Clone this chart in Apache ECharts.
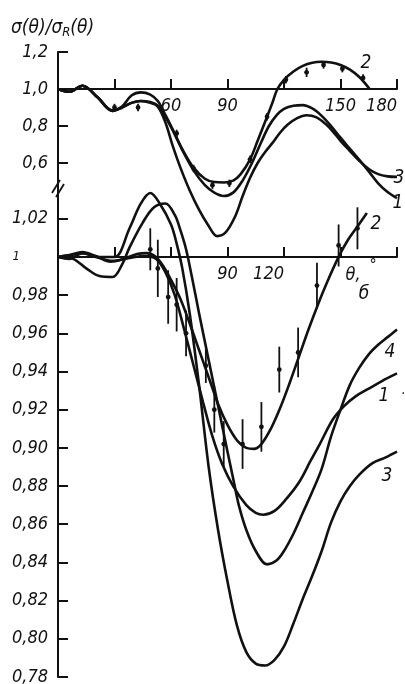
<!DOCTYPE html>
<html>
<head>
<meta charset="utf-8">
<title>σ(θ)/σR(θ)</title>
<script src="https://cdn.jsdelivr.net/npm/echarts@6.0.0/dist/echarts.min.js"></script>
<style>
  html, body { margin: 0; padding: 0; background: #fff; }
  #main { width: 405px; height: 684px; }
</style>
</head>
<body>
<div id="main"></div>
<script type="text/javascript">
// верхняя панель (a): отношение сечений, угол в градусах
var topCurve1 = [[0,1.0],[6,0.985],[13,1.018],[21,0.955],[29,0.882],[34,0.9],[39,0.925],[44,0.935],[49,0.93],[53,0.91],[57,0.85],[61,0.775],[66,0.67],[72,0.56],[78,0.48],[83,0.44],[88,0.422],[93,0.44],[98,0.505],[103,0.6],[108,0.715],[112,0.8],[116,0.858],[120,0.893],[125,0.91],[130,0.913],[135,0.895],[140,0.855],[145,0.8],[150,0.737],[155,0.677],[160,0.617],[165,0.555],[170,0.49],[175,0.443],[180,0.41]];
var topCurve2 = [[0,1.0],[6,0.985],[13,1.018],[21,0.955],[29,0.885],[34,0.905],[39,0.965],[44,0.982],[49,0.97],[53,0.935],[57,0.86],[61,0.78],[66,0.675],[72,0.575],[78,0.515],[83,0.497],[88,0.495],[93,0.505],[97,0.54],[102,0.62],[106,0.72],[111,0.85],[114,0.93],[116.5,1.0],[120,1.05],[125,1.095],[130,1.125],[135,1.142],[140,1.147],[145,1.143],[150,1.13],[155,1.105],[160,1.065],[165.5,1.0]];
var topCurve3 = [[0,1.0],[6,0.985],[13,1.018],[21,0.955],[29,0.882],[34,0.9],[39,0.925],[44,0.935],[49,0.925],[53,0.905],[57,0.82],[61,0.69],[65,0.575],[70,0.45],[75,0.345],[80,0.26],[84.5,0.205],[89,0.225],[94,0.31],[98,0.42],[102,0.52],[106,0.6],[110,0.66],[114,0.71],[118,0.765],[122,0.808],[127,0.843],[132,0.858],[137,0.848],[142,0.812],[146,0.77],[150,0.72],[155,0.665],[160,0.612],[165,0.568],[170,0.54],[175,0.528],[180,0.525]];
// эксперимент: угол, значение, ошибка
var topPoints = [[30,0.9,0.02],[42.5,0.9,0.02],[63,0.76,0.02],[72,0.57,0.02],[82,0.48,0.02],[91,0.49,0.02],[102,0.62,0.02],[111,0.85,0.02],[121,1.05,0.02],[132,1.09,0.025],[141,1.13,0.02],[151,1.11,0.02],[162,1.06,0.02]];

// нижняя панель (б)
var botCurve1 = [[0,1.0],[7,1.001],[13,1.002],[20,1.0],[29,0.998],[38,0.9995],[46,1.0005],[52,0.999],[57,0.992],[62,0.98],[67,0.962],[72,0.943],[77,0.924],[82,0.906],[87,0.892],[93,0.88],[100,0.87],[105,0.866],[109,0.865],[115,0.867],[121,0.873],[128,0.882],[134,0.893],[139,0.902],[146,0.915],[152,0.922],[158,0.927],[165,0.931],[172,0.935],[180,0.939]];
var botCurve2 = [[0,1.0],[6,1.001],[13,1.0025],[20,1.0005],[28,0.9975],[35,0.999],[42,1.0015],[47,1.002],[52,1.0],[56,0.995],[60,0.988],[65,0.978],[70,0.965],[75,0.951],[80,0.937],[85,0.923],[90,0.912],[95,0.904],[100,0.9],[104,0.8995],[108,0.902],[113,0.91],[118,0.921],[123,0.934],[128,0.948],[133,0.962],[138,0.975],[143,0.987],[149,1.0],[154,1.009],[159,1.016],[164,1.023]];
var botCurve3 = [[0,1.0],[6,0.999],[13,1.002],[22,1.0],[30,1.0],[38,1.015],[44,1.028],[49,1.0335],[54,1.028],[60,1.017],[63,1.007],[66,0.994],[70,0.97],[75,0.932],[80,0.89],[85,0.857],[90,0.83],[95,0.807],[100,0.793],[105,0.787],[110,0.786],[115,0.789],[120,0.796],[125,0.808],[130,0.821],[135,0.833],[140,0.846],[145,0.861],[150,0.872],[155,0.88],[160,0.886],[167,0.892],[174,0.895],[180,0.898]];
var botCurve4 = [[0,1.0],[8,0.999],[15,0.994],[22,0.99],[29,0.9895],[34,0.996],[38,1.005],[45,1.018],[51,1.026],[57,1.028],[62,1.022],[65,1.014],[68,1.004],[71,0.99],[75,0.97],[80,0.946],[85,0.922],[90,0.898],[93,0.884],[96,0.87],[100,0.857],[105,0.846],[111,0.839],[116,0.841],[120,0.846],[125,0.855],[130,0.866],[135,0.877],[140,0.889],[145,0.906],[150,0.92],[155,0.933],[160,0.942],[165,0.949],[170,0.954],[175,0.958],[180,0.962]];
var botPoints = [[49,1.004,0.011],[53,0.994,0.015],[58.5,0.979,0.014],[63,0.975,0.014],[68,0.96,0.012],[78.5,0.943,0.009],[83,0.92,0.012],[88,0.902,0.012],[98,0.902,0.013],[108,0.911,0.013],[117.5,0.941,0.012],[127.5,0.95,0.013],[137.5,0.985,0.012],[149,1.006,0.011],[159,1.015,0.011]];

// деления осей
var xTicks = [30, 60, 90, 120, 150, 180];
var xLabelsTop = [60, 90, 150, 180];
var xLabelsBot = [90, 120];
var yTicksTop = [0.6, 0.8, 1.0, 1.2];
var yTicksBot = [0.78, 0.8, 0.82, 0.84, 0.86, 0.88, 0.9, 0.92, 0.94, 0.96, 0.98, 1.0, 1.02];

var INK = '#111';
var FONT = '"DejaVu Sans Condensed", "DejaVu Sans", sans-serif';

var myChart = echarts.init(document.getElementById('main'));

function comma(v, d) {
    return v.toFixed(d).replace('.', ',');
}

function lineSeries(data, xi) {
    return {
        type: 'line',
        xAxisIndex: xi,
        yAxisIndex: xi,
        data: data,
        smooth: 0.35,
        symbol: 'none',
        clip: false,
        silent: true,
        lineStyle: { color: INK, width: 2.6 }
    };
}

function errSeries(data, xi) {
    return {
        type: 'custom',
        xAxisIndex: xi,
        yAxisIndex: xi,
        data: data,
        clip: false,
        silent: true,
        renderItem: function (params, api) {
            var x = api.value(0), y = api.value(1), e = api.value(2);
            var p = api.coord([x, y]);
            var hi = api.coord([x, y + e]);
            var lo = api.coord([x, y - e]);
            return {
                type: 'group',
                children: [{
                    type: 'line',
                    shape: { x1: p[0], y1: hi[1], x2: p[0], y2: lo[1] },
                    style: { stroke: INK, lineWidth: 1.8 }
                }, {
                    type: 'circle',
                    shape: { cx: p[0], cy: p[1], r: 2.4 },
                    style: { fill: INK }
                }]
            };
        }
    };
}

function xAxisCfg(gi, off, labels) {
    return {
        type: 'value',
        gridIndex: gi,
        min: 0,
        max: 180,
        position: 'bottom',
        offset: off,
        axisLine: { show: true, onZero: false, lineStyle: { color: INK, width: 2 } },
        axisTick: { show: true, inside: true, length: 10, customValues: xTicks, lineStyle: { color: INK, width: 2 } },
        axisLabel: {
            customValues: labels,
            margin: 8,
            color: INK,
            fontFamily: FONT,
            fontStyle: 'italic',
            fontSize: 18,
            alignMaxLabel: 'right'
        },
        splitLine: { show: false }
    };
}

function yAxisCfg(gi, min, max, ticks, fmt) {
    return {
        type: 'value',
        gridIndex: gi,
        min: min,
        max: max,
        axisLine: { show: true, onZero: false, lineStyle: { color: INK, width: 2 } },
        axisTick: { show: true, inside: true, length: 10, customValues: ticks, lineStyle: { color: INK, width: 2 } },
        axisLabel: {
            customValues: ticks,
            margin: 10,
            color: INK,
            fontFamily: FONT,
            fontStyle: 'italic',
            fontSize: 18,
            formatter: fmt,
            rich: { s: { fontFamily: FONT, fontStyle: 'italic', fontSize: 13, color: INK, padding: [0, 28, 0, 0] } }
        },
        splitLine: { show: false }
    };
}

var txt = function (x, y, s, size) {
    return {
        type: 'text', x: x, y: y, silent: true,
        style: { text: s, fill: INK, font: 'italic ' + (size || 19) + 'px ' + FONT, textAlign: 'center', textVerticalAlign: 'middle' }
    };
};

var option = {
    backgroundColor: '#fff',
    animation: false,
    title: {
        text: '{a|σ(θ)/σ}{b|R}{a|(θ)}',
        left: 6,
        top: 13,
        textStyle: {
            rich: {
                a: { fontFamily: FONT, fontStyle: 'italic', fontWeight: 'normal', fontSize: 19, color: INK },
                b: { fontFamily: FONT, fontStyle: 'italic', fontWeight: 'normal', fontSize: 13, color: INK, verticalAlign: 'bottom', padding: [8, 0, 0, 0] }
            }
        }
    },
    grid: [
        { left: 58, right: 8, top: 52, height: 136, outerBoundsMode: 'none' },
        { left: 58, right: 8, top: 188, height: 489, outerBoundsMode: 'none' }
    ],
    xAxis: [
        xAxisCfg(0, -99, xLabelsTop),
        xAxisCfg(1, -420, xLabelsBot)
    ],
    yAxis: [
        yAxisCfg(0, 0.465, 1.2, yTicksTop, function (v) { return comma(v, 1); }),
        yAxisCfg(1, 0.78, 1.0361, yTicksBot, function (v) { return Math.abs(v - 1) < 1e-9 ? '{s|1}' : comma(v, 2); })
    ],
    graphic: [
        // разрыв оси
        { type: 'rect', shape: { x: 52, y: 183, width: 12, height: 11 }, style: { fill: '#fff' }, silent: true },
        { type: 'line', shape: { x1: 52, y1: 193, x2: 60, y2: 180 }, style: { stroke: INK, lineWidth: 1.8 }, silent: true },
        { type: 'line', shape: { x1: 56, y1: 197, x2: 64, y2: 184 }, style: { stroke: INK, lineWidth: 1.8 }, silent: true },
        // номера кривых
        txt(366, 63, '2'),
        txt(399, 178, '3'),
        txt(398, 203, '1'),
        txt(376, 224, '2'),
        txt(390, 352, '4'),
        txt(384, 396, '1'),
        txt(403, 394, '·', 14),
        txt(387, 476, '3'),
        // подпись оси
        txt(353, 275, 'θ,', 18),
        txt(373, 266, '°', 16),
        txt(364, 294, 'б', 19)
    ],
    series: [
        lineSeries(topCurve1, 0),
        lineSeries(topCurve2, 0),
        lineSeries(topCurve3, 0),
        errSeries(topPoints, 0),
        lineSeries(botCurve1, 1),
        lineSeries(botCurve2, 1),
        lineSeries(botCurve3, 1),
        lineSeries(botCurve4, 1),
        errSeries(botPoints, 1)
    ]
};

myChart.setOption(option);
</script>
</body>
</html>
